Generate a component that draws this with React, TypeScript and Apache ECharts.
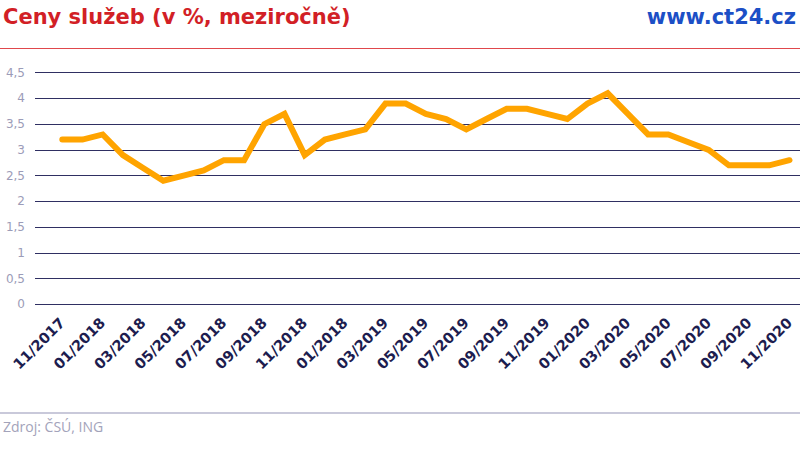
import React, { useEffect, useRef } from "react";
import * as echarts from "echarts";

const categories = [
  "11/2017", "12/2017", "01/2018", "02/2018", "03/2018", "04/2018", "05/2018", "06/2018",
  "07/2018", "08/2018", "09/2018", "10/2018", "11/2018", "12/2018", "01/2018", "02/2019",
  "03/2019", "04/2019", "05/2019", "06/2019", "07/2019", "08/2019", "09/2019", "10/2019",
  "11/2019", "12/2019", "01/2020", "02/2020", "03/2020", "04/2020", "05/2020", "06/2020",
  "07/2020", "08/2020", "09/2020", "10/2020", "11/2020",
];

const services = [
  3.2, 3.2, 3.3, 2.9, 2.65, 2.4, 2.5, 2.6, 2.8, 2.8, 3.5, 3.7, 2.9, 3.2, 3.3, 3.4, 3.9, 3.9,
  3.7, 3.6, 3.4, 3.6, 3.8, 3.8, 3.7, 3.6, 3.9, 4.1, 3.7, 3.3, 3.3, 3.15, 3.0, 2.7, 2.7, 2.7, 2.8,
];

const yMin = 0;
const yMax = 4.5;
const yStep = 0.5;

const titleText = "Ceny služeb (v %, meziročně)";
const brandText = "www.ct24.cz";
const sourceText = "Zdroj: ČSÚ, ING";

export default function App() {
  const ref = useRef<HTMLDivElement>(null);

  useEffect(() => {
    if (!ref.current) return;
    const chart = echarts.init(ref.current, undefined, { renderer: "svg" });
    const top = 72.7;
    const bottom = 449 - 304.3;
    chart.setOption({
      animation: false,
      backgroundColor: "#ffffff",
      grid: [
        { left: 62.3, right: 10.5, top, bottom },
        { left: 35, right: 0, top, bottom },
      ],
      xAxis: [
        {
          type: "category",
          gridIndex: 0,
          data: categories,
          boundaryGap: false,
          axisLine: { show: false },
          axisTick: { show: false },
          splitLine: { show: false },
          axisLabel: {
            interval: 1,
            rotate: 45,
            margin: 16,
            color: "#1d1d4f",
            fontFamily: "DejaVu Sans",
            fontWeight: "bold",
            fontSize: 14.5,
          },
        },
        {
          type: "value",
          gridIndex: 1,
          min: 0,
          max: 1,
          show: false,
        },
      ],
      yAxis: [
        {
          type: "value",
          gridIndex: 0,
          min: yMin,
          max: yMax,
          interval: yStep,
          show: false,
          splitLine: { show: false },
        },
        {
          type: "value",
          gridIndex: 1,
          min: yMin,
          max: yMax,
          interval: yStep,
          axisLine: { show: false },
          axisTick: { show: false },
          splitLine: { show: true, lineStyle: { color: "#2f2f62", width: 1.2 } },
          axisLabel: {
            margin: 10,
            color: "#9c9cb8",
            fontFamily: "DejaVu Sans",
            fontSize: 12,
            formatter: (v: number) => String(v).replace(".", ","),
          },
        },
      ],
      series: [
        {
          type: "line",
          xAxisIndex: 0,
          yAxisIndex: 0,
          data: services,
          symbol: "none",
          lineStyle: { color: "#ffa400", width: 6, cap: "round", join: "miter" },
          z: 5,
        },
      ],
      graphic: [
        {
          type: "text",
          left: 3,
          top: 6,
          style: {
            text: titleText,
            fill: "#d21f26",
            font: "bold 21px 'DejaVu Sans'",
          },
        },
        {
          type: "text",
          right: 4,
          top: 6,
          style: {
            text: brandText,
            fill: "#1c4fc6",
            font: "bold 21px 'DejaVu Sans'",
          },
        },
        {
          type: "line",
          shape: { x1: 0, y1: 48.5, x2: 800, y2: 48.5 },
          style: { stroke: "#e0474c", lineWidth: 1 },
        },
        {
          type: "line",
          shape: { x1: 0, y1: 413, x2: 800, y2: 413 },
          style: { stroke: "#c9c9da", lineWidth: 2 },
        },
        {
          type: "text",
          left: 3,
          top: 419,
          style: {
            text: sourceText,
            fill: "#a3a3ba",
            font: "14px 'Open Sans'",
          },
        },
      ],
    });
    return () => chart.dispose();
  }, []);

  return (
    <div
      ref={ref}
      style={{ position: "fixed", left: 0, top: 0, width: 800, height: 449 }}
    />
  );
}
